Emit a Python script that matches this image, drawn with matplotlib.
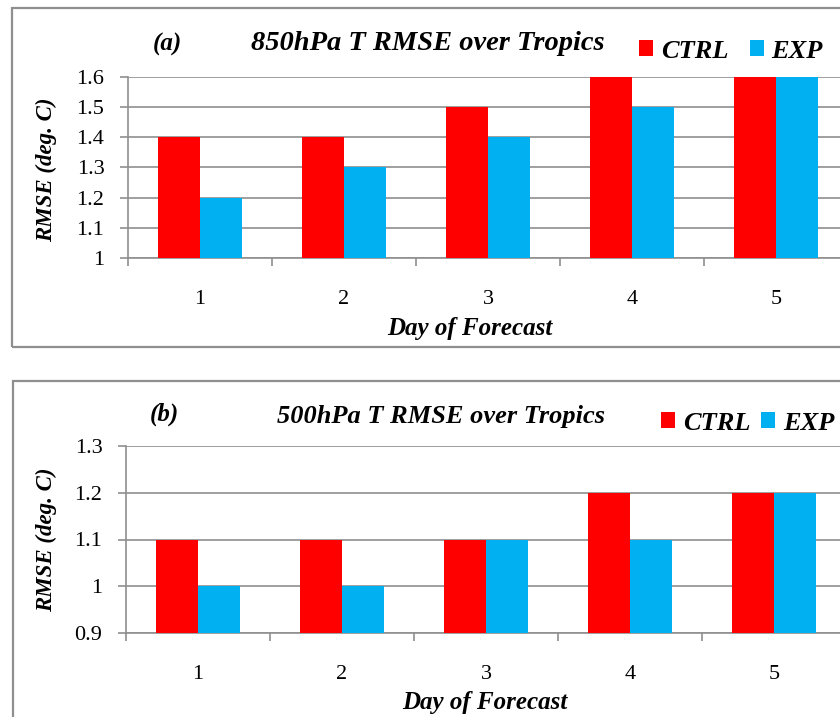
import numpy as np
import matplotlib
matplotlib.use("Agg")
import matplotlib.pyplot as plt
from matplotlib.patches import Rectangle, Patch

days = ["1", "2", "3", "4", "5"]

ctrl_850 = [1.4, 1.4, 1.5, 1.6, 1.6]
exp_850 = [1.2, 1.3, 1.4, 1.5, 1.6]
yticks_850 = [1.0, 1.1, 1.2, 1.3, 1.4, 1.5, 1.6]
ylabels_850 = ["1", "1.1", "1.2", "1.3", "1.4", "1.5", "1.6"]

ctrl_500 = [1.1, 1.1, 1.1, 1.2, 1.2]
exp_500 = [1.0, 1.0, 1.1, 1.1, 1.2]
yticks_500 = [0.9, 1.0, 1.1, 1.2, 1.3]
ylabels_500 = ["0.9", "1", "1.1", "1.2", "1.3"]

RED = "#FF0000"
BLUE = "#00B0F0"
GREY = "#8f8f8f"
FONT = "Liberation Serif"

W, H = 840, 717
fig = plt.figure(figsize=(W / 100, H / 100), dpi=100)
fig.patch.set_facecolor("white")


def fx(px):
    return px / W


def fy(py):
    return 1 - py / H


def panel(rect, ctrl, exp, yticks, ylabels):
    ax = fig.add_axes(rect)
    x = np.arange(1, len(days) + 1)
    bw = 0.29
    ax.bar(x - bw / 2, ctrl, bw, color=RED, zorder=3)
    ax.bar(x + bw / 2, exp, bw, color=BLUE, zorder=3)
    ax.set_xlim(0.5, len(days) + 0.5)
    ax.set_ylim(yticks[0], yticks[-1])

    ax.set_yticks(yticks)
    ax.set_yticklabels(ylabels, fontfamily=FONT, fontsize=16)
    ax.yaxis.grid(True, color=GREY, lw=1.2, zorder=0)

    # category boundaries carry the tick marks, centres carry the labels
    ax.set_xticks(np.arange(0.5, len(days) + 1, 1.0))
    ax.set_xticklabels([])
    ax.set_xticks(x, minor=True)
    ax.set_xticklabels(days, minor=True, fontfamily=FONT, fontsize=16)
    ax.tick_params(axis="x", which="major", length=6, width=1.2, color=GREY, direction="out")
    ax.tick_params(axis="x", which="minor", length=0, pad=23)
    ax.tick_params(axis="y", length=6, width=1.2, color=GREY, pad=11)

    for side in ("top", "right"):
        ax.spines[side].set_visible(False)
    for side in ("left", "bottom"):
        ax.spines[side].set_color(GREY)
        ax.spines[side].set_linewidth(1.2)
    return ax


# panel (a): 850 hPa
ax1 = panel([fx(128), fy(258), 720 / W, 181 / H], ctrl_850, exp_850, yticks_850, ylabels_850)
# panel (b): 500 hPa
ax2 = panel([fx(126), fy(633), 720 / W, 187 / H], ctrl_500, exp_500, yticks_500, ylabels_500)

lab = dict(fontfamily=FONT, fontweight="bold", fontstyle="italic")

fig.add_artist(Rectangle((fx(12), fy(347)), 1.2, 339 / H, transform=fig.transFigure,
                         fill=False, edgecolor=GREY, lw=1.6))
fig.add_artist(Rectangle((fx(13), fy(760)), 1.2, 379 / H, transform=fig.transFigure,
                         fill=False, edgecolor=GREY, lw=1.6))

fig.text(fx(167), fy(44), "(a)", ha="center", va="center", fontsize=18, **lab)
fig.text(fx(428), fy(44), "850hPa T RMSE over Tropics", ha="center", va="center", fontsize=20.5, **lab)
fig.text(fx(164), fy(414), "(b)", ha="center", va="center", fontsize=18, **lab)
fig.text(fx(441), fy(417), "500hPa T RMSE over Tropics", ha="center", va="center", fontsize=19, **lab)

fig.text(fx(46), fy(170), "RMSE (deg. C)", rotation=90, ha="center", va="center", fontsize=16.5, **lab)
fig.text(fx(46), fy(540), "RMSE (deg. C)", rotation=90, ha="center", va="center", fontsize=16.5, **lab)
fig.text(fx(470), fy(328), "Day of Forecast", ha="center", va="center", fontsize=18, **lab)
fig.text(fx(485), fy(703), "Day of Forecast", ha="center", va="center", fontsize=18, **lab)

handles = [Patch(facecolor=RED, label="CTRL"), Patch(facecolor=BLUE, label="EXP")]
for cx, cy, gap in ((639, 51, 0.8), (661, 423, 0.4)):
    fig.legend(handles=handles, loc="center left", bbox_to_anchor=(fx(cx), fy(cy)),
               ncol=2, frameon=False, handlelength=0.53, handleheight=0.53,
               handletextpad=0.3, columnspacing=gap, borderpad=0, borderaxespad=0,
               prop=dict(family=FONT, weight="bold", style="italic", size=19))

fig.savefig("out.png", dpi=100)
